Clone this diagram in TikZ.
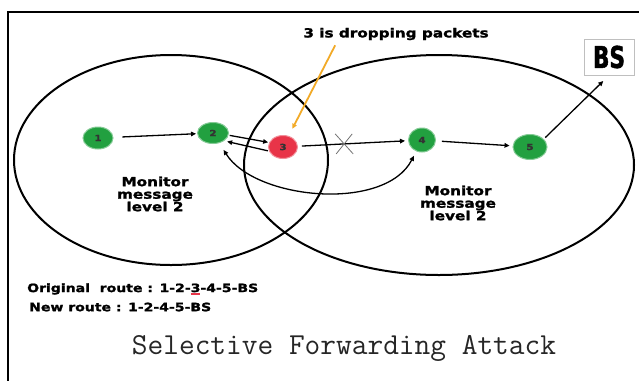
\documentclass[tikz,border=0pt]{standalone}
\usepackage{fontspec}
\usetikzlibrary{arrows.meta,shapes.geometric,calc}
% heavy, slightly extended sans for the labels
\newfontfamily\heavyfont[FakeStretch=1.22,FakeBold=1.6]{DejaVu Sans}
% narrow bold face for the base station tag
\newfontfamily\bsfont[FakeStretch=0.72,FakeBold=1.5]{DejaVu Sans}
\definecolor{nodegreen}{RGB}{34,160,64}
\definecolor{nodered}{RGB}{232,52,72}
\definecolor{pointer}{RGB}{242,170,40}
% red mark under a character
\newcommand{\redmark}[1]{\sbox0{#1}\rlap{\color{nodered}\rule[-2.6pt]{\wd0}{1.3pt}}#1}
\begin{document}
\begin{tikzpicture}[x=1pt,y=-1pt,
  sensor/.style={ellipse, fill=nodegreen, draw=nodegreen!55, line width=1pt,
    inner sep=0pt, minimum width=30pt, minimum height=22pt,
    font=\heavyfont\bfseries\fontsize{8.5}{8.5}\selectfont, text=black!80},
  rogue/.style={sensor, fill=nodered, draw=nodered!55},
  hop/.style={-{Triangle[length=5pt,width=4.5pt]}, line width=1.3pt},
  zone/.style={line width=2pt},
  note/.style={font=\heavyfont\bfseries\fontsize{12.5}{12.5}\selectfont,
    align=center, inner sep=0pt},
  route/.style={font=\heavyfont\bfseries\fontsize{11.5}{11.5}\selectfont,
    anchor=west, inner sep=0pt}]
\useasboundingbox (0,0) rectangle (639,381);
\fill[white] (0,0) rectangle (639,381);

% outer frame (top and left edges only)
\draw[line width=2.5pt] (639,12) -- (8,12) -- (8,381);

% monitoring zones
\draw[zone] (171,160) ellipse [x radius=157, y radius=105];
\draw[zone] (439,165) ellipse [x radius=195, y radius=110];

% sensor nodes
\node[sensor] (n1) at (98,138) {1};
\node[sensor, minimum width=31pt, minimum height=21pt] (n2) at (213,133) {2};
\node[rogue, minimum width=29pt, minimum height=23pt] (n3) at (283,147) {3};
\node[sensor, minimum width=27pt, minimum height=24pt] (n4) at (422,140) {4};
\node[sensor, minimum width=34pt, minimum height=25pt] (n5) at (530,147) {5};
\node[draw=black!25, line width=0.8pt, minimum width=50pt, minimum height=36pt,
  inner sep=0pt, font=\bsfont\bfseries\fontsize{30}{30}\selectfont] (bs) at (609,57) {BS};

% labels
\node[note] (drop) at (396,34) {3 is dropping packets};
\node[note] (monL) at (155,194) {Monitor\\message\\level 2};
\node[note] (monR) at (458,203) {Monitor\\message\\level 2};

% forwarding path
\draw[hop, shorten <=9pt, shorten >=1pt] (n1) -- (n2);
\draw[hop, shorten <=1pt, shorten >=1pt] (n2.-8) -- (n3.162);
\draw[hop, shorten <=1pt, shorten >=3pt] (n3.196) -- (n2.-35);
\draw[hop, shorten <=4pt, shorten >=3pt] (n3) -- (n4)
  coordinate[pos=0.42] (cut);
\draw[black!55, line width=0.8pt] ($(cut)+(-9,-10)$) -- ($(cut)+(9,10)$);
\draw[black!55, line width=0.8pt] ($(cut)+(-8,10)$) -- ($(cut)+(8,-10)$);
\draw[hop, shorten <=6pt, shorten >=3pt] (n4) -- (n5);
\draw[hop, shorten <=2pt, shorten >=8pt] (n5.30) -- (bs.south);

% rerouted link around the dropping node
\draw[{Triangle[length=5pt,width=4.5pt]}-{Triangle[length=5pt,width=4.5pt]},
  line width=1.3pt, shorten <=8pt, shorten >=5pt]
  (n2) .. controls (255,200) and (385,212) .. (n4);

% pointer to the dropping node
\draw[pointer, line width=1.8pt, -{Triangle[length=5pt,width=4.5pt]},
  shorten >=8pt] ([xshift=32pt, yshift=-5pt]drop.south west) -- (n3);

% route summary
\node[route] (orig) at (27,289)
  {Original\ \ route : 1-2-\redmark{3}-4-5-BS};
\node[route] (new) at (29,307) {New route : 1-2-4-5-BS};

% title
\node[font=\ttfamily\fontsize{30.5}{30.5}\selectfont, text=black!85, inner sep=0pt]
  (title) at (344,348) {Selective Forwarding Attack};
\end{tikzpicture}
\end{document}
